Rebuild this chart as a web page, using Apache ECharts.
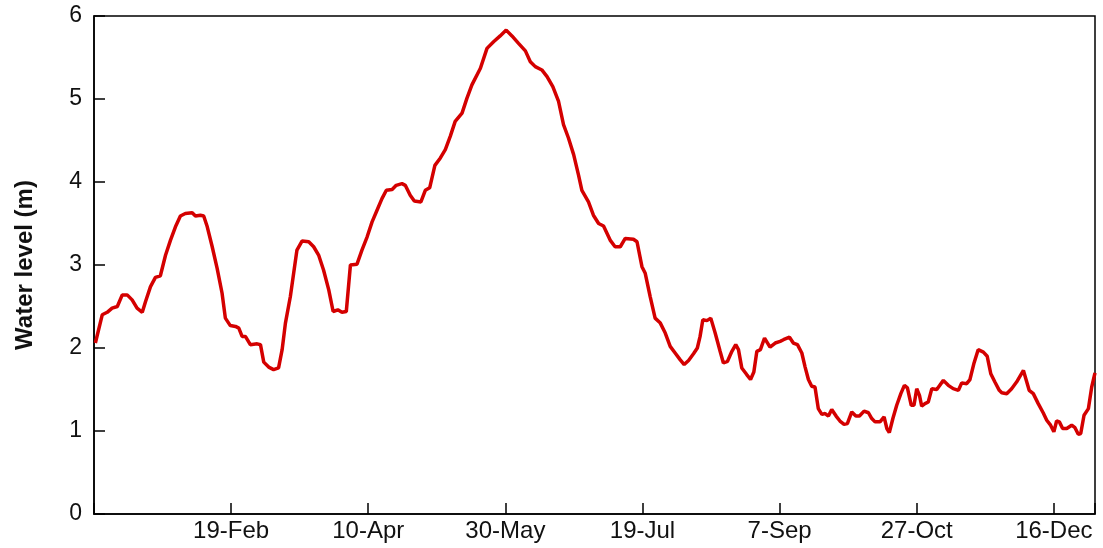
<!DOCTYPE html>
<html>
<head>
<meta charset="utf-8">
<script src="https://cdn.jsdelivr.net/npm/echarts@6/dist/echarts.min.js"></script>
<style>html,body{margin:0;padding:0;background:#fff;}#chart{width:1103px;height:548px;}</style>
</head>
<body>
<div id="chart"></div>
<script>
// Day of year (0 = 31 Dec of prior year)
const days = [0.5,3,4.8,6.6,8.5,10.3,12.1,13.9,15.7,17.6,18.8,20.6,22.4,24.2,26.1,27.9,29.7,31.5,33.3,35.8,37,38.8,40,41.3,43.1,44.9,46.7,47.9,49.7,51.6,52.8,54,55.2,57,59.5,60.7,61.9,63.7,65.5,67.3,68.6,69.8,71.6,72.8,74,75.9,78.3,80.1,81.9,83.7,85.6,87.2,88.9,90.4,92,93.5,95.9,97.7,99.6,101.4,103.2,105,106.6,108.7,110.2,112.3,113.5,115.3,116.8,119.2,120.8,122.4,124.3,126.3,128.1,129.9,131.7,134.2,136,137.8,140.9,143.3,145.7,148.1,150.3,152.4,154.8,157.3,159.1,160.9,163.3,165.2,167.3,169.4,171.2,173,174.9,176.7,177.9,180.3,182.1,184,185.8,188.2,190,191.9,193.7,196.7,198,199.8,201,202.8,204.6,206.5,208.3,210.1,211.9,213.7,215.2,216.8,218.6,220,221,222,223.5,224.9,226.5,228.3,229.5,231,232.6,234,235,236.2,238,239.4,240.6,241.7,243,244.5,246.5,248.4,250.2,251.4,253.6,255,256.5,258.1,259.3,260.5,261.7,262.9,264.1,265.4,266.6,267.8,269,270.6,272,273.5,274.7,276.3,277.8,279.1,280.8,282.4,283.6,284.8,286.6,288.1,289.1,290,291.3,292.7,294.2,295.5,296.6,298,299,300,301,301.8,303,304.2,305.5,307.3,309.7,311.5,313.3,315.2,316.4,318.2,319.4,320.9,322.4,324.3,325.7,327,328.5,330.1,331,332.8,334.6,336.4,338.9,341,342.5,344.3,346.1,347.4,348.8,350,351,352,353.2,354.7,356.5,357.7,358.9,359.8,361,362.6,363.8,365];
const waterLevel = [2.06,2.40,2.43,2.48,2.50,2.64,2.64,2.58,2.48,2.43,2.56,2.74,2.85,2.87,3.12,3.30,3.46,3.59,3.62,3.63,3.59,3.60,3.59,3.46,3.22,2.96,2.66,2.36,2.27,2.26,2.24,2.14,2.14,2.04,2.05,2.04,1.83,1.77,1.74,1.76,1.98,2.30,2.62,2.90,3.18,3.29,3.28,3.22,3.12,2.94,2.70,2.44,2.46,2.43,2.44,3.00,3.01,3.18,3.34,3.52,3.66,3.80,3.90,3.91,3.96,3.98,3.96,3.84,3.77,3.76,3.90,3.93,4.20,4.29,4.39,4.55,4.73,4.83,5.01,5.17,5.37,5.61,5.69,5.76,5.83,5.76,5.67,5.58,5.45,5.39,5.35,5.27,5.15,4.97,4.69,4.53,4.33,4.08,3.90,3.76,3.60,3.50,3.47,3.30,3.22,3.22,3.32,3.31,3.28,2.98,2.90,2.62,2.36,2.30,2.18,2.02,1.94,1.86,1.80,1.85,1.93,2.00,2.14,2.34,2.33,2.36,2.18,1.96,1.82,1.84,1.96,2.04,1.98,1.76,1.68,1.62,1.71,1.96,1.98,2.12,2.01,2.06,2.08,2.10,2.13,2.06,2.04,1.94,1.77,1.62,1.54,1.53,1.27,1.20,1.21,1.18,1.26,1.18,1.12,1.08,1.09,1.23,1.18,1.18,1.24,1.22,1.15,1.11,1.11,1.17,1.03,0.98,1.15,1.31,1.45,1.55,1.52,1.31,1.31,1.51,1.43,1.30,1.33,1.35,1.51,1.50,1.61,1.55,1.51,1.49,1.58,1.57,1.62,1.82,1.98,1.95,1.90,1.69,1.59,1.49,1.46,1.45,1.51,1.59,1.73,1.49,1.45,1.33,1.22,1.13,1.07,0.99,1.12,1.11,1.03,1.03,1.07,1.04,0.96,0.97,1.19,1.27,1.53,1.70];
const xTickDays = [50,100,150,200,250,300,350];
const xTickLabels = ['19-Feb','10-Apr','30-May','19-Jul','7-Sep','27-Oct','16-Dec'];
const yTickLabels = ['0','1','2','3','4','5','6'];

const chart = echarts.init(document.getElementById('chart'), null, {renderer:'canvas'});
const font = 'Liberation Sans, Arial, sans-serif';
chart.setOption({
  animation:false,
  backgroundColor:'#fff',
  grid:{left:94,right:8,top:16,bottom:34,show:true,borderColor:'#000',borderWidth:1.5,backgroundColor:'transparent'},
  xAxis:{
    type:'value',min:0,max:365,interval:50,
    axisLine:{lineStyle:{color:'#000',width:1.5}},
    axisTick:{inside:true,length:11,lineStyle:{color:'#000',width:1.5}},
    splitLine:{show:false},
    axisLabel:{margin:5,color:'#111',fontSize:24,fontFamily:font,
      formatter:v=>{const i=xTickDays.indexOf(v);return i>=0?xTickLabels[i]:'';}}
  },
  yAxis:{
    type:'value',min:0,max:6,interval:1,
    name:'Water level (m)',nameLocation:'middle',nameGap:57,
    nameTextStyle:{fontSize:24,fontWeight:'bold',color:'#111',fontFamily:font},
    axisLine:{show:true,lineStyle:{color:'#000',width:1.5}},
    axisTick:{show:true,inside:true,length:11,lineStyle:{color:'#000',width:1.5}},
    splitLine:{show:false},
    axisLabel:{margin:12,color:'#111',fontSize:23,fontFamily:font,formatter:v=>yTickLabels[v]}
  },
  series:[{
    type:'line',showSymbol:false,
    data:days.map((d,i)=>[d,waterLevel[i]]),
    lineStyle:{color:'#d40000',width:3.5},
    itemStyle:{color:'#d40000'}
  }]
});
</script>
</body>
</html>
